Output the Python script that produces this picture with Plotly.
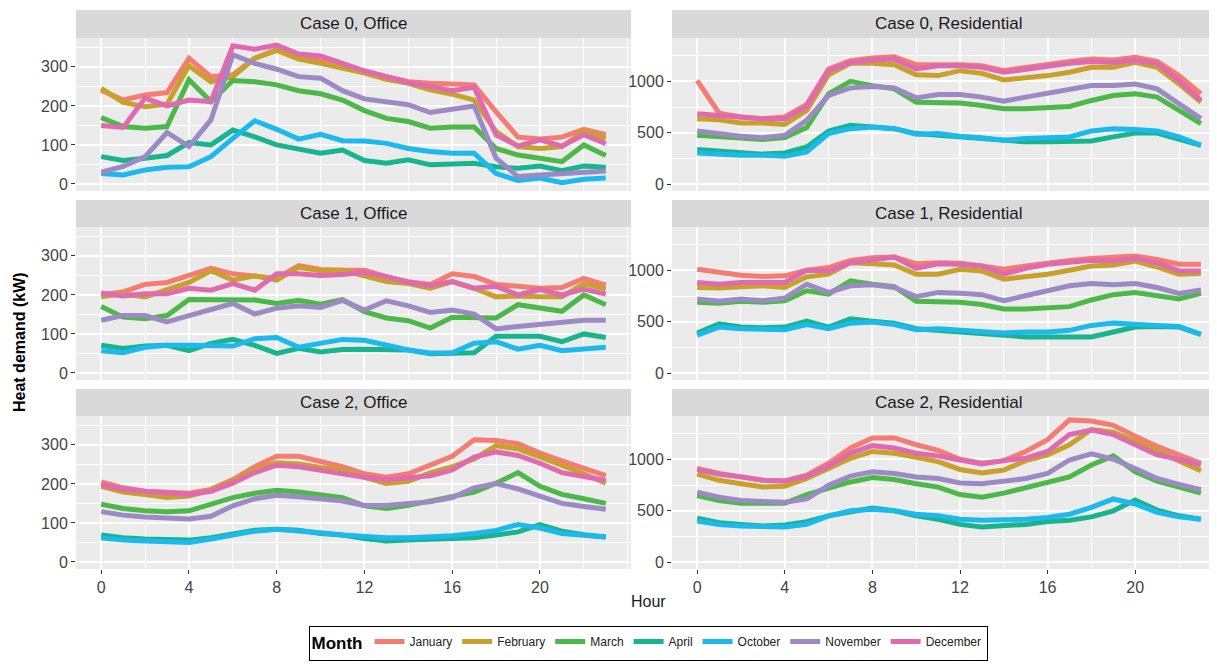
import plotly.graph_objects as go

W, H = 1217, 664
hours = list(range(24))
months = ["January", "February", "March", "April", "October", "November", "December"]
colors = ["#F47C72", "#C8A02C", "#4CB848", "#17B48D", "#1CB9EC", "#9B8AC4", "#E06AAF"]

case0_office = {
    "January":  [240, 215, 228, 234, 322, 275, 280, 322, 345, 325, 315, 300, 288, 275, 262, 258, 256, 254, 185, 120, 115, 120, 140, 126],
    "February": [245, 209, 198, 205, 303, 262, 275, 322, 342, 320, 309, 297, 284, 268, 258, 241, 230, 215, 134, 96, 91, 96, 134, 117],
    "March":    [170, 147, 143, 147, 267, 211, 265, 262, 254, 239, 231, 215, 188, 168, 160, 143, 146, 146, 91, 74, 66, 57, 100, 73],
    "April":    [70, 60, 66, 73, 106, 100, 138, 121, 100, 89, 79, 87, 60, 53, 62, 49, 51, 53, 44, 40, 46, 34, 46, 43],
    "October":  [27, 23, 36, 43, 44, 70, 117, 162, 140, 115, 127, 111, 110, 104, 91, 83, 79, 79, 27, 9, 15, 3, 12, 15],
    "November": [30, 45, 70, 132, 96, 164, 331, 309, 294, 275, 271, 239, 218, 211, 203, 183, 190, 200, 66, 19, 23, 27, 32, 33],
    "December": [150, 145, 220, 200, 215, 211, 354, 345, 356, 333, 328, 309, 290, 275, 260, 250, 239, 248, 126, 97, 113, 97, 126, 103],
}
case1_office = {
    "January":  [200, 208, 227, 232, 250, 268, 254, 248, 242, 275, 265, 263, 263, 247, 234, 227, 254, 247, 227, 222, 217, 219, 242, 225],
    "February": [195, 203, 195, 212, 232, 262, 238, 249, 238, 271, 262, 263, 250, 234, 229, 217, 234, 217, 195, 197, 195, 195, 229, 215],
    "March":    [170, 143, 139, 147, 188, 187, 187, 187, 178, 186, 176, 188, 157, 141, 134, 115, 143, 141, 141, 175, 168, 158, 200, 175],
    "April":    [71, 63, 69, 71, 57, 76, 86, 71, 50, 63, 54, 60, 61, 59, 59, 49, 51, 52, 94, 93, 94, 80, 100, 91],
    "October":  [57, 52, 66, 71, 71, 71, 69, 88, 91, 66, 77, 86, 84, 71, 59, 51, 52, 76, 80, 61, 71, 57, 63, 66],
    "November": [135, 147, 147, 131, 147, 164, 178, 151, 166, 172, 168, 186, 161, 185, 172, 155, 161, 151, 113, 119, 124, 130, 135, 135],
    "December": [205, 197, 203, 203, 217, 212, 229, 212, 254, 254, 250, 252, 258, 247, 232, 224, 234, 217, 222, 200, 214, 200, 215, 202],
}
case2_office = {
    "January":  [205, 190, 181, 177, 176, 186, 211, 244, 271, 271, 257, 244, 226, 217, 226, 249, 271, 313, 311, 303, 279, 259, 240, 221],
    "February": [194, 179, 173, 165, 169, 184, 207, 236, 254, 251, 242, 236, 217, 201, 207, 228, 244, 264, 298, 290, 269, 248, 226, 202],
    "March":    [148, 137, 131, 129, 131, 148, 165, 176, 184, 179, 171, 165, 144, 137, 145, 156, 169, 179, 202, 229, 194, 173, 162, 150],
    "April":    [69, 62, 59, 56, 56, 62, 73, 81, 84, 81, 73, 69, 60, 54, 56, 59, 60, 62, 69, 77, 96, 79, 70, 64],
    "October":  [62, 56, 54, 52, 50, 59, 70, 79, 84, 81, 75, 69, 64, 62, 62, 64, 67, 73, 81, 96, 87, 73, 69, 64],
    "November": [129, 120, 115, 112, 110, 117, 144, 162, 171, 167, 161, 156, 145, 145, 150, 154, 165, 190, 201, 187, 169, 150, 142, 135],
    "December": [198, 187, 181, 176, 173, 181, 202, 229, 248, 244, 234, 226, 217, 211, 215, 221, 236, 269, 282, 273, 253, 229, 219, 209],
}
case0_res = {
    "January":  [1006, 690, 653, 637, 653, 775, 1119, 1199, 1225, 1238, 1161, 1167, 1161, 1151, 1103, 1135, 1167, 1193, 1215, 1206, 1232, 1193, 1055, 878],
    "February": [637, 627, 595, 595, 582, 717, 1064, 1174, 1174, 1161, 1064, 1055, 1103, 1077, 1013, 1032, 1055, 1087, 1135, 1135, 1183, 1135, 974, 797],
    "March":    [476, 466, 453, 434, 453, 550, 878, 1000, 958, 926, 797, 797, 788, 765, 733, 733, 743, 756, 814, 862, 878, 846, 717, 588],
    "April":    [338, 325, 305, 293, 305, 363, 518, 572, 556, 540, 492, 476, 460, 453, 428, 412, 412, 412, 421, 460, 498, 498, 444, 379],
    "October":  [305, 293, 283, 283, 273, 315, 492, 540, 556, 540, 486, 492, 466, 453, 428, 444, 453, 460, 518, 540, 531, 518, 460, 379],
    "November": [518, 492, 466, 453, 476, 621, 862, 936, 949, 936, 839, 871, 871, 846, 807, 846, 884, 926, 958, 958, 974, 926, 781, 637],
    "December": [685, 669, 646, 637, 637, 756, 1103, 1183, 1206, 1215, 1119, 1151, 1151, 1135, 1087, 1119, 1151, 1174, 1193, 1183, 1206, 1174, 1006, 814],
}
case1_res = {
    "January":  [1010, 978, 952, 939, 946, 1000, 1026, 1096, 1122, 1128, 1064, 1074, 1067, 1042, 1010, 1042, 1074, 1096, 1115, 1122, 1138, 1106, 1058, 1058],
    "February": [833, 827, 840, 849, 833, 936, 962, 1074, 1064, 1051, 962, 962, 1010, 994, 913, 936, 962, 1000, 1042, 1051, 1090, 1032, 962, 968],
    "March":    [689, 679, 699, 689, 705, 801, 769, 897, 865, 840, 699, 699, 689, 667, 625, 625, 635, 647, 712, 763, 785, 753, 721, 776],
    "April":    [391, 481, 449, 442, 449, 506, 449, 529, 506, 487, 433, 417, 391, 378, 359, 353, 353, 353, 353, 401, 449, 455, 449, 378],
    "October":  [369, 449, 433, 433, 423, 474, 433, 487, 497, 474, 423, 433, 417, 410, 391, 401, 401, 417, 465, 487, 481, 465, 455, 378],
    "November": [721, 699, 721, 705, 731, 865, 785, 849, 859, 833, 744, 785, 776, 763, 705, 753, 801, 849, 872, 859, 872, 833, 776, 808],
    "December": [881, 865, 881, 881, 881, 1000, 994, 1074, 1106, 1128, 1019, 1064, 1058, 1042, 962, 1019, 1058, 1083, 1096, 1096, 1115, 1074, 994, 994],
}
case2_res = {
    "January":  [911, 862, 829, 796, 789, 845, 961, 1109, 1207, 1207, 1141, 1086, 1000, 961, 987, 1076, 1191, 1382, 1372, 1329, 1224, 1125, 1043, 961],
    "February": [855, 796, 763, 730, 737, 813, 911, 1010, 1076, 1059, 1020, 977, 901, 868, 895, 987, 1043, 1141, 1289, 1263, 1174, 1076, 987, 888],
    "March":    [648, 599, 572, 572, 572, 658, 724, 780, 822, 803, 763, 730, 658, 632, 671, 724, 770, 829, 944, 1033, 878, 789, 730, 671],
    "April":    [428, 385, 368, 352, 362, 395, 451, 484, 526, 500, 451, 418, 368, 342, 352, 368, 395, 408, 441, 500, 605, 507, 451, 418],
    "October":  [401, 368, 352, 342, 342, 368, 451, 500, 516, 500, 467, 451, 418, 408, 408, 418, 434, 467, 533, 615, 566, 484, 441, 418],
    "November": [681, 632, 599, 592, 582, 615, 747, 836, 878, 862, 829, 813, 770, 763, 789, 813, 862, 993, 1053, 1000, 911, 813, 757, 704],
    "December": [901, 855, 829, 796, 789, 836, 934, 1059, 1132, 1109, 1059, 1033, 993, 954, 987, 1010, 1076, 1240, 1283, 1240, 1141, 1043, 1000, 944],
}

panels = [
    ("Case 0, Office", case0_office), ("Case 0, Residential", case0_res),
    ("Case 1, Office", case1_office), ("Case 1, Residential", case1_res),
    ("Case 2, Office", case2_office), ("Case 2, Residential", case2_res),
]

FONT = "Liberation Sans, Arial, sans-serif"
fig = go.Figure()

# geometry in page pixels (the page body adds an 8px offset to the figure)
OFF = 8
col_x = [(76, 631), (672, 1225)]
row_y = [(10, 38, 191), (200, 227, 380), (389, 416, 569)]  # strip top, plot top, plot bottom
xr = [[-1.15, 24.15], [-1.15, 24.1]]
yr = [[-18, 374], [-65, 1420]]

def px(x):
    return (x - OFF) / W

def py(y):
    return 1 - (y - OFF) / H

shapes = []
annotations = []
for i, (title, data) in enumerate(panels):
    r, c = divmod(i, 2)
    n = i + 1
    xa = "x" if n == 1 else f"x{n}"
    ya = "y" if n == 1 else f"y{n}"
    for m, col in zip(months, colors):
        fig.add_trace(go.Scatter(
            x=hours, y=data[m], mode="lines", name=m, legendgroup=m,
            showlegend=(i == 0), line=dict(color=col, width=5),
            xaxis=xa, yaxis=ya,
        ))
    x0, x1 = col_x[c]
    st, pt, pb = row_y[r]
    office = (c == 0)
    fig.layout[f"xaxis{n if n > 1 else ''}"] = dict(
        domain=[max(0, px(x0)), min(1, px(x1))], range=xr[c], anchor=ya, automargin=False,
        tickvals=[0, 4, 8, 12, 16, 20], showticklabels=(r == 2),
        ticks="outside" if r == 2 else "", ticklen=4, tickcolor="#333333",
        tickfont=dict(family=FONT, size=16, color="#444444"),
        showgrid=True, gridcolor="white", gridwidth=1.6,
        minor=dict(dtick=2, tick0=0, showgrid=True, gridcolor="white", gridwidth=0.7),
        zeroline=False, showline=False, fixedrange=True,
    )
    fig.layout[f"yaxis{n if n > 1 else ''}"] = dict(
        domain=[py(pb), py(pt)], range=yr[c], anchor=xa, automargin=False,
        tickvals=[0, 100, 200, 300] if office else [0, 500, 1000],
        ticks="outside", ticklen=4, tickcolor="#333333",
        tickfont=dict(family=FONT, size=16, color="#444444"),
        showgrid=True, gridcolor="white", gridwidth=1.6,
        minor=dict(dtick=50 if office else 250, tick0=0, showgrid=True, gridcolor="white", gridwidth=0.7),
        zeroline=False, showline=False, fixedrange=True,
    )
    shapes.append(dict(type="rect", xref="paper", yref="paper",
                       x0=max(0, px(x0)), x1=min(1, px(x1)), y0=py(pt), y1=py(st),
                       fillcolor="#D9D9D9", line=dict(width=0), layer="below"))
    annotations.append(dict(text=title, xref="paper", yref="paper",
                            x=px((x0 + x1) / 2), y=py((st + pt) / 2),
                            xanchor="center", yanchor="middle", showarrow=False,
                            font=dict(family=FONT, size=17, color="#1A1A1A")))

annotations.append(dict(text="<b>Heat demand (kW)</b>", xref="paper", yref="paper",
                        x=px(19), y=py(342), textangle=-90, showarrow=False,
                        xanchor="center", yanchor="middle",
                        font=dict(family=FONT, size=16, color="black")))
annotations.append(dict(text="Hour", xref="paper", yref="paper",
                        x=px(648), y=py(601), showarrow=False,
                        xanchor="center", yanchor="middle",
                        font=dict(family=FONT, size=16, color="#1A1A1A")))

fig.update_layout(
    width=W, height=H,
    margin=dict(l=0, r=0, t=0, b=0, autoexpand=False),
    paper_bgcolor="white", plot_bgcolor="#EBEBEB",
    shapes=shapes, annotations=annotations,
    legend=dict(
        orientation="h", x=px(648), xanchor="center", y=py(626), yanchor="top",
        bordercolor="black", borderwidth=1, bgcolor="white",
        title=dict(text="<b>Month</b>", font=dict(family=FONT, size=17, color="black")),
        font=dict(family=FONT, size=12, color="#222222"),
        itemwidth=30, tracegroupgap=0, valign="middle",
    ),
)

fig.write_html("out.html")
